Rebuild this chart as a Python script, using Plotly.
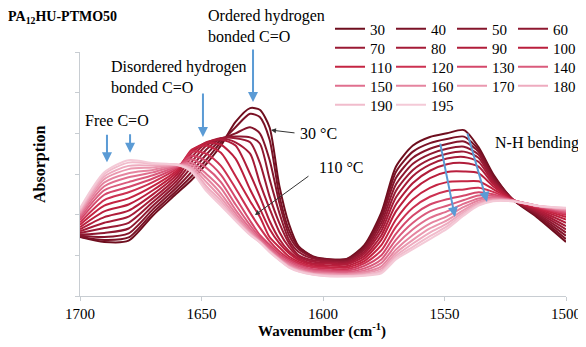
import plotly.graph_objects as go

# wavenumber grid (cm-1) shared by all spectra
wavenumber = [1700, 1690, 1680, 1670, 1660, 1654, 1648, 1642, 1636, 1630,
              1626, 1622, 1618, 1614, 1610, 1604, 1597, 1590, 1583, 1576,
              1570, 1563, 1556, 1549, 1542, 1536, 1530, 1522, 1512, 1500]

temperatures = [30, 40, 50, 60, 70, 80, 90, 100, 110, 120, 130, 140, 150, 160, 170, 180, 190, 195]

s30 = [1.45, 1.33, 1.36, 1.98, 2.53, 2.86, 3.25, 3.70, 4.28, 4.62, 4.58, 4.15, 2.72, 1.77, 1.22,
       0.97, 0.90, 0.92, 1.25, 2.05, 3.18, 3.70, 3.91, 4.00, 4.08, 3.66, 3.00, 2.38, 1.94, 1.33]
s40 = [1.46, 1.38, 1.44, 2.05, 2.60, 2.95, 3.35, 3.78, 4.15, 4.48, 4.40, 3.85, 2.48, 1.62, 1.20,
       0.96, 0.90, 0.91, 1.22, 1.98, 3.05, 3.55, 3.76, 3.86, 3.92, 3.60, 2.96, 2.38, 1.97, 1.40]
s50 = [1.48, 1.45, 1.54, 2.13, 2.68, 3.06, 3.48, 3.84, 4.00, 4.15, 4.00, 3.35, 2.30, 1.50, 1.15,
       0.95, 0.89, 0.89, 1.18, 1.90, 2.90, 3.40, 3.62, 3.74, 3.80, 3.55, 2.92, 2.38, 2.00, 1.48]
s60 = [1.51, 1.55, 1.66, 2.22, 2.76, 3.18, 3.60, 3.87, 3.92, 3.90, 3.75, 2.88, 2.05, 1.38, 1.08,
       0.92, 0.87, 0.87, 1.14, 1.80, 2.74, 3.25, 3.49, 3.62, 3.67, 3.48, 2.88, 2.37, 2.03, 1.56]
s70 = [1.55, 1.67, 1.80, 2.31, 2.84, 3.30, 3.70, 3.88, 3.88, 3.78, 3.28, 2.45, 1.80, 1.30, 1.00,
       0.88, 0.85, 0.84, 1.09, 1.70, 2.58, 3.10, 3.36, 3.50, 3.55, 3.40, 2.84, 2.37, 2.06, 1.64]
s80 = [1.59, 1.80, 1.95, 2.40, 2.92, 3.42, 3.76, 3.88, 3.78, 3.50, 2.78, 2.15, 1.58, 1.20, 0.96,
       0.84, 0.82, 0.81, 1.04, 1.60, 2.42, 2.95, 3.23, 3.38, 3.42, 3.30, 2.80, 2.37, 2.09, 1.72]
s90 = [1.64, 1.94, 2.10, 2.50, 2.99, 3.52, 3.78, 3.85, 3.70, 3.00, 2.45, 1.85, 1.40, 1.10, 0.92,
       0.80, 0.79, 0.78, 0.98, 1.49, 2.25, 2.78, 3.08, 3.24, 3.27, 3.18, 2.76, 2.37, 2.12, 1.80]
s100 = [1.69, 2.08, 2.25, 2.60, 3.05, 3.58, 3.76, 3.72, 3.38, 2.62, 2.15, 1.65, 1.30, 1.05, 0.88,
        0.77, 0.75, 0.74, 0.92, 1.38, 2.08, 2.60, 2.90, 3.05, 3.06, 3.02, 2.70, 2.37, 2.15, 1.88]
s110 = [1.75, 2.22, 2.40, 2.70, 3.10, 3.60, 3.70, 3.52, 2.95, 2.33, 1.95, 1.45, 1.20, 0.97, 0.84,
        0.73, 0.71, 0.70, 0.86, 1.25, 1.88, 2.38, 2.66, 2.80, 2.82, 2.82, 2.63, 2.36, 2.17, 1.94]
s120 = [1.81, 2.36, 2.55, 2.80, 3.14, 3.55, 3.50, 3.20, 2.65, 2.05, 1.68, 1.35, 1.10, 0.92, 0.80,
        0.70, 0.67, 0.66, 0.80, 1.12, 1.70, 2.17, 2.44, 2.58, 2.62, 2.66, 2.56, 2.36, 2.19, 1.99]
s130 = [1.87, 2.49, 2.68, 2.89, 3.17, 3.45, 3.32, 2.98, 2.42, 1.85, 1.50, 1.26, 1.04, 0.88, 0.76,
        0.66, 0.63, 0.62, 0.74, 1.00, 1.53, 1.98, 2.25, 2.38, 2.47, 2.55, 2.50, 2.36, 2.20, 2.03]
s140 = [1.92, 2.60, 2.80, 2.97, 3.19, 3.36, 3.15, 2.80, 2.25, 1.74, 1.44, 1.20, 0.99, 0.84, 0.73,
        0.63, 0.60, 0.59, 0.68, 0.90, 1.38, 1.80, 2.08, 2.22, 2.36, 2.47, 2.46, 2.35, 2.21, 2.06]
s150 = [1.97, 2.70, 2.92, 3.04, 3.21, 3.28, 3.00, 2.65, 2.12, 1.66, 1.39, 1.16, 0.96, 0.80, 0.69,
        0.60, 0.57, 0.56, 0.63, 0.81, 1.25, 1.64, 1.92, 2.08, 2.27, 2.40, 2.42, 2.35, 2.22, 2.09]
s160 = [2.01, 2.79, 3.02, 3.10, 3.22, 3.22, 2.90, 2.52, 2.03, 1.60, 1.36, 1.13, 0.93, 0.77, 0.66,
        0.57, 0.55, 0.54, 0.59, 0.73, 1.14, 1.50, 1.78, 1.96, 2.19, 2.35, 2.39, 2.35, 2.22, 2.11]
s170 = [2.05, 2.87, 3.12, 3.16, 3.23, 3.16, 2.80, 2.42, 1.96, 1.56, 1.34, 1.11, 0.91, 0.74, 0.64,
        0.55, 0.53, 0.52, 0.56, 0.67, 1.06, 1.38, 1.66, 1.86, 2.12, 2.30, 2.37, 2.34, 2.22, 2.13]
s180 = [2.09, 2.94, 3.20, 3.21, 3.23, 3.12, 2.70, 2.34, 1.91, 1.53, 1.33, 1.10, 0.90, 0.72, 0.62,
        0.54, 0.51, 0.50, 0.53, 0.62, 0.99, 1.29, 1.56, 1.78, 2.07, 2.27, 2.35, 2.34, 2.22, 2.15]
s190 = [2.13, 3.00, 3.28, 3.25, 3.23, 3.08, 2.63, 2.27, 1.87, 1.51, 1.32, 1.09, 0.89, 0.71, 0.61,
        0.53, 0.49, 0.49, 0.51, 0.59, 0.94, 1.21, 1.47, 1.71, 2.02, 2.24, 2.34, 2.33, 2.22, 2.16]
s195 = [2.16, 3.04, 3.34, 3.27, 3.22, 3.05, 2.58, 2.22, 1.85, 1.50, 1.32, 1.08, 0.88, 0.70, 0.60,
        0.52, 0.48, 0.48, 0.50, 0.56, 0.90, 1.15, 1.40, 1.65, 1.98, 2.22, 2.33, 2.33, 2.22, 2.17]

spectra = [s30, s40, s50, s60, s70, s80, s90, s100, s110, s120,
           s130, s140, s150, s160, s170, s180, s190, s195]

colors = ['#6E0E1E', '#7A1226', '#84152B', '#8E1830', '#9A1A34', '#A51B37', '#B01D3A', '#BA1F3D',
          '#C42442', '#CC3151', '#D4476A', '#DA5B7C', '#E06F8E', '#E5849F', '#EA98AF', '#EEABBF',
          '#F1BCCC', '#F4CAD7']

SERIF = 'Liberation Serif, Times New Roman, serif'
BLUE = '#5B9BD5'

fig = go.Figure()

for i, (t, vals) in enumerate(zip(temperatures, spectra)):
    row = i // 4
    last_in_row = (i % 4 == 3) or (i == len(temperatures) - 1)
    fig.add_trace(go.Scatter(
        x=wavenumber, y=vals, mode='lines', name=str(t),
        line=dict(color=colors[i], width=2, shape='spline', smoothing=0.7),
        legend='legend' if row == 0 else f'legend{row + 1}',
        legendwidth=28 if last_in_row else 16,
        hoverinfo='skip'
    ))

axis_color = '#C8CDD2'
fig.update_xaxes(range=[1700, 1500], tickvals=[1700, 1650, 1600, 1550, 1500],
                 showline=True, linecolor=axis_color, linewidth=1,
                 ticks='outside', ticklen=4, tickcolor=axis_color,
                 showgrid=False, zeroline=False,
                 tickfont=dict(family=SERIF, size=15, color='black'))
fig.update_yaxes(range=[0, 6], dtick=1, showticklabels=False,
                 showline=True, linecolor=axis_color, linewidth=1,
                 ticks='outside', ticklen=4, tickcolor=axis_color,
                 showgrid=False, zeroline=False)

# five horizontal legends, one per row of the 4-column key
row_px = [29, 48, 67, 86, 105]
legends = {}
for r, py in enumerate(row_px):
    key = 'legend' if r == 0 else f'legend{r + 1}'
    legends[key] = dict(orientation='h', x=(330 - 80) / 486, xanchor='left',
                        y=(296 - py) / 244, yanchor='middle',
                        bgcolor='rgba(0,0,0,0)', borderwidth=0,
                        font=dict(family=SERIF, size=15, color='black'))

# the page body adds an 8px margin, so the figure is 8px smaller than the window
fig.update_layout(
    width=578, height=339,
    margin=dict(l=72, r=20, t=44, b=51, autoexpand=False),
    plot_bgcolor='white', paper_bgcolor='white',
    showlegend=True,
    font=dict(family=SERIF, size=16, color='black'),
    **legends
)

def ptext(text, px, py, anchor='left', size=16, **kw):
    fig.add_annotation(text=text, xref='paper', yref='paper',
                       x=(px - 80) / 486, y=(296 - py) / 244,
                       xanchor=anchor, yanchor='middle', showarrow=False,
                       align='left', font=dict(family=SERIF, size=size, color='black'), **kw)

ptext('<b>PA<sub>12</sub>HU-PTMO50</b>', 6, 17, size=14)
ptext('Ordered hydrogen<br>bonded C=O', 206, 26)
ptext('Disordered hydrogen<br>bonded C=O', 109, 77)
ptext('Free C=O', 83, 120)
ptext('30 °C', 298, 133)
ptext('110 °C', 317, 167)
ptext('N-H bending', 493, 143)
ptext('<b>Absorption</b>', 40, 165, anchor='center', size=16, textangle=-90)
ptext('<b>Wavenumber (cm<sup>-1</sup>)</b>', 322, 330, anchor='center', size=15)

def arrow(xw, yv, ax, ay, color, width):
    fig.add_annotation(x=xw, y=yv, xref='x', yref='y', ax=ax, ay=ay, text='',
                       showarrow=True, arrowhead=2, arrowsize=1, arrowwidth=width,
                       arrowcolor=color)

# blue band markers
arrow(1628.8, 4.77, 0, -54, BLUE, 2)
arrow(1649.4, 3.91, 0, -45, BLUE, 2)
arrow(1688.9, 3.29, 0, -29, BLUE, 2)
arrow(1679.4, 3.52, 0, -20, BLUE, 2)
arrow(1545.7, 1.94, -15, -75, BLUE, 2)
arrow(1532.5, 2.31, -20, -70, BLUE, 2)
# temperature labels
arrow(1621.4, 4.08, 25, 3, '#333333', 1)
arrow(1628.0, 1.99, 55, -40, '#333333', 1)

fig.write_html("out.html")
